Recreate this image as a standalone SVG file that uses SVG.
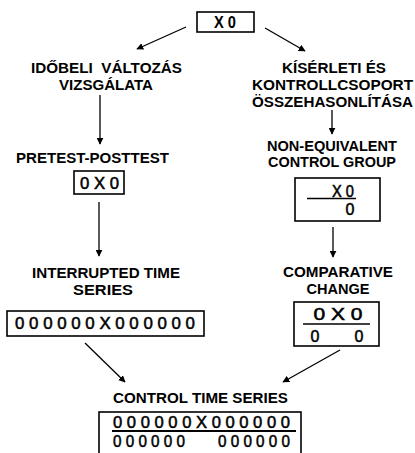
<svg xmlns="http://www.w3.org/2000/svg" width="415" height="453" viewBox="0 0 415 453">
<style>
.h{font-family:"Liberation Sans",Arial,sans-serif;font-weight:bold;font-size:14.5px;text-anchor:middle;fill:#000}
.d{font-family:"Liberation Sans",Arial,sans-serif;font-size:16px;text-anchor:middle;fill:#000;stroke:#000;stroke-width:0.5}
.db{font-weight:bold;stroke-width:0}
.box{fill:#fff;stroke:#000;stroke-width:1.6}
.rule{stroke:#000;stroke-width:1.4}
.con{stroke:#000;stroke-width:1.3;fill:none;marker-end:url(#ah)}
</style>
<defs>
<marker id="ah" viewBox="0 0 10 10" refX="9" refY="5" markerWidth="7" markerHeight="7" orient="auto" markerUnits="userSpaceOnUse">
<path d="M0,0 L10,5 L0,10 z" fill="#000"/>
</marker>
</defs>
<rect width="415" height="453" fill="#fff"/>
<g id="connectors">
<line class="con" x1="186" y1="27" x2="137" y2="49"/>
<line class="con" x1="265" y1="28" x2="305" y2="51"/>
<line class="con" x1="100" y1="95" x2="100" y2="144"/>
<line class="con" x1="99" y1="202" x2="99" y2="256"/>
<line class="con" x1="332" y1="110" x2="332" y2="134"/>
<line class="con" x1="333" y1="227" x2="333" y2="257"/>
<line class="con" x1="85" y1="343" x2="125" y2="382"/>
<line class="con" x1="340" y1="350" x2="283" y2="382"/>
</g>
<g id="top">
<rect class="box" x="197" y="12" width="57" height="20"/>
<text class="d db" x="225" y="28" textLength="22" lengthAdjust="spacingAndGlyphs">X 0</text>
</g>
<g id="idobeli">
<text class="h" x="106.5" y="73" textLength="151" lengthAdjust="spacingAndGlyphs" xml:space="preserve">IDŐBELI  VÁLTOZÁS</text>
<text class="h" x="106" y="90" textLength="94" lengthAdjust="spacingAndGlyphs">VIZSGÁLATA</text>
</g>
<g id="kiserleti">
<text class="h" x="334" y="73" textLength="104" lengthAdjust="spacingAndGlyphs">KÍSÉRLETI ÉS</text>
<text class="h" x="332.5" y="90" textLength="161" lengthAdjust="spacingAndGlyphs">KONTROLLCSOPORT</text>
<text class="h" x="332.5" y="107" textLength="161" lengthAdjust="spacingAndGlyphs">ÖSSZEHASONLÍTÁSA</text>
</g>
<g id="pretest">
<text class="h" x="92.5" y="163" textLength="153" lengthAdjust="spacingAndGlyphs">PRETEST-POSTTEST</text>
<rect class="box" x="74" y="171" width="50" height="23"/>
<text class="d" x="99.5" y="189" textLength="39" lengthAdjust="spacingAndGlyphs">0 X 0</text>
</g>
<g id="interrupted">
<text class="h" x="106" y="277.5" textLength="148" lengthAdjust="spacingAndGlyphs">INTERRUPTED TIME</text>
<text class="h" x="103" y="294.5" textLength="60" lengthAdjust="spacingAndGlyphs">SERIES</text>
<rect class="box" x="7" y="311" width="197" height="25"/>
<text class="d" x="105" y="329" textLength="180" lengthAdjust="spacingAndGlyphs">0 0 0 0 0 0 X 0 0 0 0 0 0</text>
</g>
<g id="nonequivalent">
<text class="h" x="332" y="151" textLength="130" lengthAdjust="spacingAndGlyphs">NON-EQUIVALENT</text>
<text class="h" x="332" y="167" textLength="128" lengthAdjust="spacingAndGlyphs">CONTROL GROUP</text>
<rect class="box" x="295" y="178" width="85" height="43"/>
<text class="d" x="343" y="196.5" textLength="22" lengthAdjust="spacingAndGlyphs">X 0</text>
<line class="rule" x1="307" y1="198.5" x2="356" y2="198.5"/>
<text class="d" x="350" y="215">0</text>
</g>
<g id="comparative">
<text class="h" x="338" y="277" textLength="110" lengthAdjust="spacingAndGlyphs">COMPARATIVE</text>
<text class="h" x="338" y="294" textLength="63" lengthAdjust="spacingAndGlyphs">CHANGE</text>
<rect class="box" x="294" y="302" width="85" height="44"/>
<text class="d" x="338" y="319.5" textLength="49" lengthAdjust="spacingAndGlyphs">0 X 0</text>
<line class="rule" x1="303" y1="324" x2="370" y2="324"/>
<text class="d" x="315" y="341.5">0</text>
<text class="d" x="359" y="341.5">0</text>
</g>
<g id="controltimeseries">
<text class="h" x="200.5" y="403" textLength="175" lengthAdjust="spacingAndGlyphs">CONTROL TIME SERIES</text>
<rect class="box" x="99" y="412" width="202" height="60"/>
<text class="d" x="201.5" y="428" textLength="177" lengthAdjust="spacingAndGlyphs">0 0 0 0 0 0 X 0 0 0 0 0 0</text>
<line x1="112" y1="431" x2="296" y2="431" stroke="#000" stroke-width="2"/>
<text class="d" x="149" y="446.5" textLength="72" lengthAdjust="spacingAndGlyphs">0 0 0 0 0 0</text>
<text class="d" x="254" y="446.5" textLength="72" lengthAdjust="spacingAndGlyphs">0 0 0 0 0 0</text>
</g>
</svg>
